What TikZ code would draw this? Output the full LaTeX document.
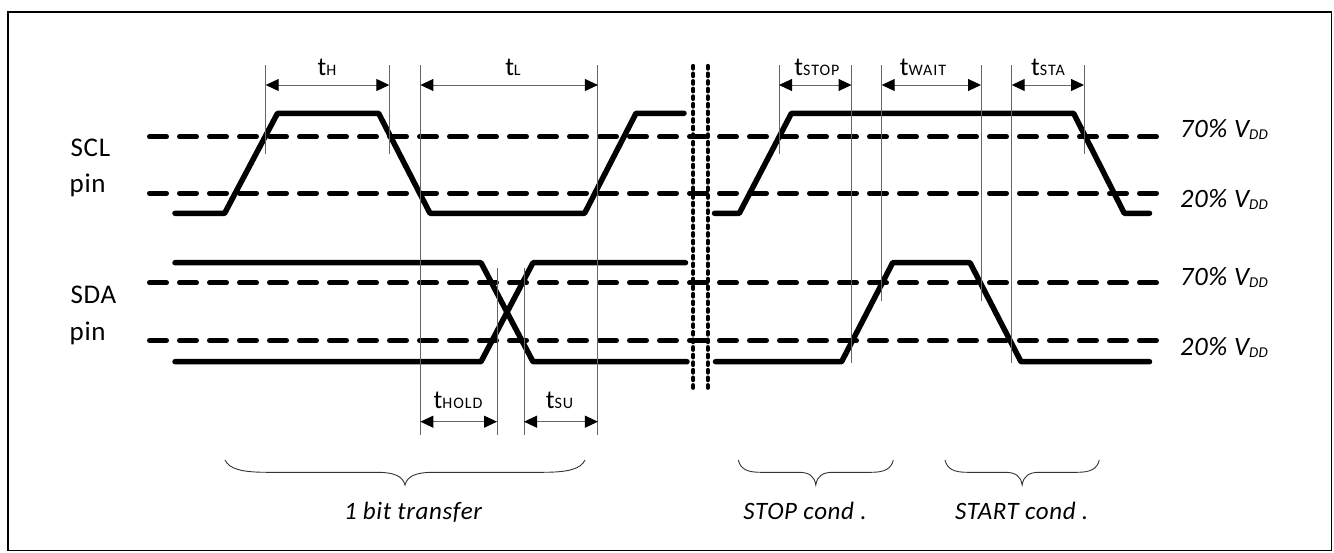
\documentclass[tikz,border=0pt]{standalone}
\usepackage{fontspec}
\setmainfont{Carlito}
\newfontfamily\spc[LetterSpace=2.5]{Carlito}
\newfontfamily\spcs[LetterSpace=6]{Carlito}
\usetikzlibrary{arrows.meta}
\newcommand{\tlab}[1]{{\fontsize{26}{28}\selectfont t}{\spcs\fontsize{16}{18}\selectfont #1}}
\newcommand{\vddlab}[1]{{\spc\fontsize{26.5}{30}\selectfont\itshape #1\% V\raisebox{-2pt}{\fontsize{15}{17}\selectfont DD}}}
\newcommand{\ubrace}[4]{%
  \draw[bracestyle] (#1,460) .. controls (#1+0.1*#3,469) and (#1+0.4*#3,472.3) .. (#1+#3,472.3)
    -- ({(#1+#2)/2-#4},472.3) .. controls ({(#1+#2)/2-0.4*#4},472.3) and ({(#1+#2)/2-0.08*#4},476) .. ({(#1+#2)/2},485)
    .. controls ({(#1+#2)/2+0.08*#4},476) and ({(#1+#2)/2+0.4*#4},472.3) .. ({(#1+#2)/2+#4},472.3)
    -- (#2-#3,472.3) .. controls (#2-0.4*#3,472.3) and (#2-0.1*#3,469) .. (#2,460);}
\begin{document}
\begin{tikzpicture}[x=1pt,y=-1pt,
  wave/.style={line width=5.5pt,line cap=round,line join=round},
  thr/.style={line width=5pt,line cap=round,dash pattern=on 17pt off 13pt},
  guide/.style={line width=1pt,draw=black!60},
  dim/.style={line width=1pt,draw=black!60,{Triangle[length=13pt,width=12pt,black]}-{Triangle[length=13pt,width=12pt,black]}},
  brk/.style={line width=4.3pt,line cap=round,dash pattern=on 2.5pt off 5.1pt},
  bracestyle/.style={line width=0.9pt,draw=black!80},
  lab/.style={inner sep=0pt,anchor=base},
  pinlab/.style={inner sep=0pt,anchor=base west,font=\spc\fontsize{27}{30}\selectfont},
  vlab/.style={inner sep=0pt,anchor=base west},
  blab/.style={inner sep=0pt,anchor=base,font=\spc\fontsize{25}{28}\selectfont\itshape},
]
\useasboundingbox (0,0) rectangle (1334,552);
\draw[line width=1.3pt] (8,12) rectangle (1331.5,550.5);

% threshold lines
\foreach \yy in {136.7,193.3,282.7,340.5} \draw[thr] (149.5,\yy) -- (1166,\yy);

% break marks
\draw[brk] (693.3,66) -- (693.3,390);
\draw[brk] (707.7,66) -- (707.7,390);

% waveforms
\draw[wave] (175,213.3) -- (224.6,213.3) -- (277.5,113.3) -- (378.6,113.3) -- (430,213.3) -- (584.6,213.3) -- (636,113.3) -- (684,113.3);
\draw[wave] (714.5,213.3) -- (739.3,213.3) -- (791.4,113.3) -- (1073.6,113.3) -- (1124.3,213.3) -- (1149.5,213.3);
\draw[wave] (175,262.7) -- (481,262.7) -- (533,361.7) -- (687,361.7);
\draw[wave] (175,361.7) -- (481,361.7) -- (533,262.7) -- (685.5,262.7);
\draw[wave] (715.5,361.7) -- (841.6,361.7) -- (892.7,262.7) -- (970,262.7) -- (1021,361.7) -- (1149.5,361.7);

% guide coordinates
\coordinate (hA) at (265.7,85);  \coordinate (hB) at (389.3,85);
\coordinate (lA) at (420.4,85);  \coordinate (lB) at (597.9,85);
\coordinate (pA) at (779,85);    \coordinate (pB) at (851.5,85);
\coordinate (wA) at (881.7,85);  \coordinate (wB) at (981,85);
\coordinate (sA) at (1011.7,85); \coordinate (sB) at (1084,85);
\coordinate (dA) at (420.4,421.7); \coordinate (dB) at (497,421.7);
\coordinate (uA) at (524,421.7);   \coordinate (uB) at (597.9,421.7);

% guide lines
\draw[guide] (265.7,65) -- (265.7,154);
\draw[guide] (389.3,65) -- (389.3,154);
\draw[guide] (420.4,65) -- (420.4,435);
\draw[guide] (597.9,65) -- (597.9,435);
\draw[guide] (497,268) -- (497,435);
\draw[guide] (524,268) -- (524,435);
\draw[guide] (779,65) -- (779,154);
\draw[guide] (851.5,65) -- (851.5,363);
\draw[guide] (881.7,65) -- (881.7,301);
\draw[guide] (981,65) -- (981,301);
\draw[guide] (1011.7,65) -- (1011.7,363);
\draw[guide] (1084,65) -- (1084,154);

% dimension arrows
\draw[dim] (hA) -- (hB);
\draw[dim] (lA) -- (lB);
\draw[dim] (pA) -- (pB);
\draw[dim] (wA) -- (wB);
\draw[dim] (sA) -- (sB);
\draw[dim] (dA) -- (dB);
\draw[dim] (uA) -- (uB);

% timing labels
\node[lab] (tH) at (327,75.7) {\tlab{H}};
\node[lab] (tL) at (513,75.7) {\tlab{L}};
\node[lab] (tSTOP) at (817,75.7) {\tlab{STOP}};
\node[lab] (tWAIT) at (923,75.7) {\tlab{WAIT}};
\node[lab] (tSTA) at (1048,75.7) {\tlab{STA}};
\node[lab] (tHOLD) at (458,408.3) {\tlab{HOLD}};
\node[lab] (tSU) at (559.5,408.3) {\tlab{SU}};

% pin labels
\node[pinlab] (scl) at (70.5,156.7) {SCL};
\node[pinlab] (sclp) at (69.5,192.7) {pin};
\node[pinlab] (sda) at (70.5,303.3) {SDA};
\node[pinlab] (sdap) at (69.5,340.7) {pin};

% level labels
\node[vlab] (v1) at (1180,137.5) {\vddlab{70}};
\node[vlab] (v2) at (1180,207.3) {\vddlab{20}};
\node[vlab] (v3) at (1180,285) {\vddlab{70}};
\node[vlab] (v4) at (1180,355) {\vddlab{20}};

% braces
\ubrace{225}{585}{42}{28}
\ubrace{738.3}{893.3}{22}{17}
\ubrace{945}{1099.3}{22}{17}

\node[blab] (b1) at (413,519.3) {1 bit transfer};
\node[blab] (b2) at (805,519.3) {STOP cond .};
\node[blab] (b3) at (1021.7,519.3) {START cond .};
\end{tikzpicture}
\end{document}
